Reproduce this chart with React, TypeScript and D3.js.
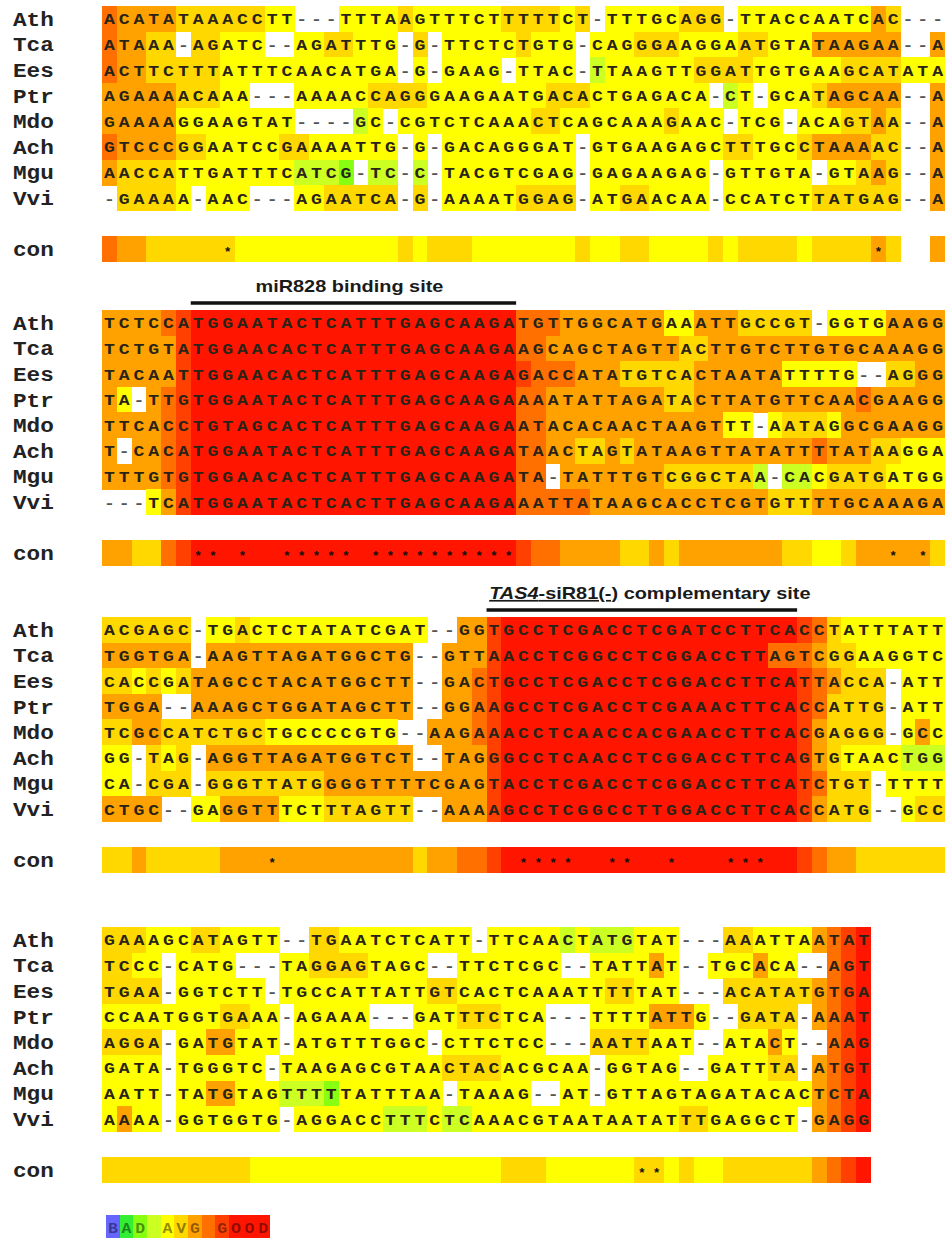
import React from "react";
import * as d3 from "d3";

const species = ["Ath", "Tca", "Ees", "Ptr", "Mdo", "Ach", "Mgu", "Vvi"];

// score colours 0 (bad) .. 9 (good)
const scoreColors = ["#6666ff", "#33ee33", "#88ff11", "#ccff22", "#ffff00", "#ffd800", "#ffa200", "#ff7000", "#ff4000", "#ff1500"];

// ---- block 1
const seqs1 = [
  "ACATATAAACCTT---TTTAAGTTTCTTTTTCT-TTTGCAGG-TTACCAATCAC---",
  "ATAAA-AGATC--AGATTTG-G-TTCTCTGTG-CAGGGAAGGAATGTATAAGAA--A",
  "ACTTCTTTATTTCAACATGA-G-GAAG-TTAC-TTAAGTTGGATTGTGAAGCATATA",
  "AGAAAACAAA---AAAACCAGGGAAGAATGACACTGAGACA-CT-GCATAGCAA--A",
  "GAAAAGGAAGTAT----GC-CGTCTCAAACTCAGCAAAGAAC-TCG-ACAGTAA--A",
  "GTCCCGGAATCCGAAAATTG-G-GACAGGGAT-GTGAAGAGCTTTGCCTAAAAC--A",
  "AACCATTGATTTCATCG-TC-C-TACGTCGAG-GAGAAGAG-GTTGTA-GTAAG--A",
  "-GAAAA-AAC---AGAATCA-G-AAAATGGAG-ATGAACAA-CCATCTTATGAG--A",
];
const scores1 = [
  "7666655555544" + "---" + "44445444444555545" + "-" + "44444555" + "-" + "44444444465" + "---",
  "76655" + "-" + "55444" + "--" + "4455444" + "-" + "5" + "-" + "444445444" + "-" + "444555444455444666666" + "--" + "6",
  "76655555444444444444" + "-" + "4" + "-" + "4444" + "-" + "4444" + "-" + "344444455554444445555444",
  "6666655544" + "---" + "4444455554444444455544444444" + "-" + "34" + "-" + "444566666" + "--" + "6",
  "6666644444444" + "----" + "34" + "-" + "4444444445544444445444" + "-" + "444" + "-" + "4445565" + "--" + "6",
  "76666554444455444444" + "-" + "4" + "-" + "444444444" + "-" + "444444444554445666655" + "--" + "6",
  "65555444444443332" + "-" + "33" + "-" + "3" + "-" + "444444444" + "-" + "44444444" + "-" + "444444" + "-" + "44565" + "--" + "6",
  "-" + "55554" + "-" + "444" + "---" + "4455555" + "-" + "5" + "-" + "444445555" + "-" + "44554444" + "-" + "444444555555" + "--" + "6",
];
const con1 = "766555555" + "44444444444" + "54" + "555" + "4444444" + "5" + "44" + "55" + "4444" + "5" + "4" + "5555" + "4" + "5555" + "6" + "5" + "--" + "6";
const stars1 = [9, 53];

// ---- block 2
const seqs2 = [
  "TCTCCATGGAATACTCATTTGAGCAAGATGTTGGCATGAAATTGCCGT-GGTGAAGG",
  "TCTGTATGGAACACTCATTTGAGCAAGAAGCAGCTAGTTACTTGTCTTGTGCAAAGG",
  "TACAATTGGAACACTCATTTGAGCAAGAGACCATATGTCACTAATATTTTG--AGGG",
  "TA-TTGTGGAATACTCATTTGAGCAAGAAAATATTAGATACTTATGTTCAACGAAGG",
  "TTCACCTGTAGCACTCATTTGAGCAAGAATACACAACTAAGTTT-AATAGGCGAAGG",
  "T-CACATGGAATACTCATTTGAGCAAGATAACTAGTATAAGTTATATTTTATAAGGA",
  "TTTGTGTGGAACACTCATTTGAGCAAGATA-TATTTGTCGGCTAA-CACGATGATGG",
  "---TCATGGAATACTCACTTGAGCAAGAAATTATAAGCACCTCGTGTTTTGCAAAGA",
];
const scores2 = [
  "666678" + "9999999999999999999999" + "777" + "6666666" + "44" + "666" + "55555" + "-" + "4444" + "6666",
  "666668" + "9999999999999999999999" + "77" + "666666666556666666666666666",
  "666668" + "9999999999999999999999" + "8" + "777" + "666" + "55555" + "666666" + "44444" + "--" + "5566",
  "64-678" + "9999999999999999999999" + "77" + "666" + "66666" + "55" + "66666666666" + "7" + "66666",
  "666678" + "9999999999999999999999" + "77" + "666666666666" + "44" + "-" + "45554" + "6666666",
  "6-6678" + "9999999999999999999999" + "77" + "66" + "55" + "6" + "5" + "666666666666" + "7" + "666" + "55" + "444",
  "666678" + "9999999999999999999999" + "77" + "-" + "6666666" + "555555" + "3" + "-" + "33" + "4" + "55554444",
  "---468" + "9999999999999999999999" + "77" + "777" + "666666666666" + "555" + "666666666",
];
const con2 = "6655" + "7" + "8" + "9999999999999999999999" + "8" + "77" + "6666" + "55" + "6" + "5" + "6666666" + "55445" + "66666" + "5";
const stars2 = [7, 8, 10, 13, 14, 15, 16, 17, 19, 20, 21, 22, 23, 24, 25, 26, 27, 28, 54, 56];

// ---- block 3
const seqs3 = [
  "ACGAGC-TGACTCTATATCGAT--GGTGCCTCGACCTCGATCCTTCACCTATTTATT",
  "TGGTGA-AAGTTAGATGGCTG--GTTAACCTCGGCCTCGGACCTTAGTCGGAAGGTC",
  "CACCGATAGCCTACATGGCTT--GACTGCCTCGACCTCGGACCTTCATTACCA-ATT",
  "TGGA--AAAGCTGGATAGCTT--GGAAGCCTCGACCTCGAAACTTCACCATTG-ATT",
  "TCGCCATCTGCTGCCCCGTG--AAGAAACCTCAACCACGAACCTTCACGAGGG-GCC",
  "GG-TAG-AGGTTAGATGGTCT--TAGGGCCTCAACCTCGGACCTTCAGTGTAACTGG",
  "CA-CGA-GGGTTATGGGGTTTTCGAGTACCTCGACCTCGGACCTTCATCTGT-TTTT",
  "CTGC--GAGGTTTCTTTAGTT--AAAAGCCTCGGCCTTGGACCTTCACCATG--GCC",
];
const scores3 = [
  "555555" + "-" + "445444444444444" + "--" + "66" + "8" + "99999999999999999999" + "8" + "7" + "5" + "4444444",
  "666666" + "-" + "66666666666666" + "--" + "666" + "8" + "999999999999999999" + "777" + "6" + "55" + "444444",
  "554545" + "666" + "666666666666" + "--" + "66" + "7" + "8" + "99999999999999999999" + "8" + "7" + "6" + "555" + "-" + "444",
  "6666" + "--" + "666666666666666" + "--" + "66" + "7" + "8" + "99999999999999999999" + "8" + "7" + "5555" + "-" + "444",
  "5566" + "5555555444444444" + "--" + "666" + "7" + "8" + "99999999999999999999" + "8" + "6" + "5555" + "-" + "464",
  "44" + "-" + "545" + "-" + "66666666666666" + "--" + "666" + "8" + "99999999999999999999" + "8" + "6" + "5" + "4444" + "333",
  "44" + "-" + "555" + "-" + "5555555566666666666" + "8" + "99999999999999999999" + "8" + "7" + "555" + "-" + "4444",
  "6666" + "--" + "44" + "6666" + "444" + "555555" + "--" + "666" + "8" + "99999999999999999999" + "8" + "6" + "555" + "--" + "455",
];
const con3 = "55" + "6" + "55555" + "6666666666666" + "5" + "6677" + "8" + "99999999999999999999" + "8" + "7" + "66" + "555555";
const stars3 = [12, 29, 30, 31, 32, 35, 36, 39, 43, 44, 45];

// ---- block 4
const seqs4 = [
  "GAAAGCATAGTT--TGAATCTCATT-TTCAACTATGTAT---AAATTAATAT",
  "TCCC-CATG---TAGGAGTAGC--TTCTCGC--TATTAT--TGCACA--AGT",
  "TGAA-GGTCTT-TGCCATTATTGTCACTCAAATTTTTAT---ACATATGTGA",
  "CCAATGGTGAAA-AGAAA---GATTTCTCA---TTTTATTG--GATA-AAAT",
  "AGGA-GATGTAT-ATGTTTGGC-CTTCTCC---AATTAAT--ATACT--AAG",
  "GATA-TGGGTC-TAAGAGCGTAACTACACGCAA-GGTAG--GATTTA-ATGT",
  "AATT-TATGTAGTTTTTATTTAA-TAAAG--AT-GTTAGTAGATACACTCTA",
  "AAAA-GGTGGTG-AGGACCTTTCTCAAACGTAATAATATTTGAGGCT-GAGG",
];
const scores4 = [
  "555444554444" + "--" + "55444444444" + "-" + "44444" + "3" + "4" + "333" + "444" + "---" + "554444" + "6789",
  "5544" + "-" + "4444" + "---" + "4455554444" + "--" + "4444444" + "--" + "444464" + "--" + "444644" + "--" + "789",
  "5555" + "-" + "444444" + "-" + "444444444455444444444455444" + "---" + "555555" + "6789",
  "444444445544" + "-" + "44444" + "---" + "444555444" + "---" + "44446664" + "--" + "5555" + "-" + "6789",
  "5555" + "-" + "4466444" + "-" + "444444444" + "-" + "4444444" + "---" + "5555444" + "--" + "44464" + "--" + "789",
  "4444" + "-" + "444444" + "-" + "444444444445555444444" + "-" + "44444" + "--" + "444455" + "-" + "6789",
  "4444" + "-" + "4466444" + "3332" + "4444444" + "-" + "44444" + "--" + "44" + "-" + "44444444444444" + "6789",
  "4644" + "-" + "4444444" + "-" + "444444" + "333" + "4" + "33" + "4444444444444455444444" + "-" + "6789",
];
const con4 = "5555555555" + "44444444444444444" + "555" + "444444" + "55" + "4" + "5" + "44" + "555555" + "6789";
const stars4 = [37, 38];

const blockTops = [6, 310, 617, 927];
const blocks = [
  { seqs: seqs1, scores: scores1, con: con1, stars: stars1 },
  { seqs: seqs2, scores: scores2, con: con2, stars: stars2 },
  { seqs: seqs3, scores: scores3, con: con3, stars: stars3 },
  { seqs: seqs4, scores: scores4, con: con4, stars: stars4 },
];

// annotated sites: block index, first and last column
const siteBlocks = [1, 2];
const siteFrom = [7, 27];
const siteTo = [28, 47];

const legendText = "BAD AVG GOOD";
const legendScores = "012345678999";

export default function App() {
  const width = 950;
  const height = 1238;
  const rowH = 25.6;
  const mono = "'Liberation Mono', 'DejaVu Sans Mono', monospace";
  const sans = "'Liberation Sans', Arial, sans-serif";

  const x = d3.scaleBand<number>().domain(d3.range(1, 58)).range([102, 945]);
  const bw = x.bandwidth();
  const color = d3
    .scaleOrdinal<string, string>()
    .domain(d3.range(10).map(String))
    .range(scoreColors);
  const rowKeys = [...species, "blank", "con"];

  const letter = (ch: string, cx: number, cy: number, key: string) => (
    <text
      key={key}
      transform={`translate(${cx},${cy + 5.5}) scale(1.17,1)`}
      textAnchor="middle"
      fontFamily={mono}
      fontWeight="bold"
      fontSize={15.5}
      fill={ch === "-" ? "#555" : "#2a2418"}
    >
      {ch}
    </text>
  );

  const label = (txt: string, cy: number, key: string) => (
    <text
      key={key}
      transform={`translate(13,${cy + 7}) scale(1.08,1)`}
      fontFamily={mono}
      fontWeight="bold"
      fontSize={21}
      fill="#222"
    >
      {txt}
    </text>
  );

  return (
    <svg
      width={width}
      height={height}
      style={{ position: "absolute", left: 0, top: 0, background: "#fff" }}
    >
      <rect width={width} height={height} fill="#fff" />
      {blocks.map((b, bi) => {
        const y = d3
          .scaleBand<string>()
          .domain(rowKeys)
          .range([blockTops[bi], blockTops[bi] + rowH * rowKeys.length]);
        const bh = y.bandwidth();
        return (
          <g key={"b" + bi}>
            {b.seqs.map((seq, ri) => {
              const sp = species[ri];
              const y0 = y(sp) as number;
              const sc = b.scores[ri];
              return (
                <g key={sp}>
                  {label(sp, y0 + bh / 2, "l" + sp)}
                  {seq.split("").map((ch, ci) =>
                    ch === "-" || sc[ci] === "-" ? null : (
                      <rect
                        key={"r" + ci}
                        x={x(ci + 1)}
                        y={y0}
                        width={bw + 0.4}
                        height={bh + 0.4}
                        fill={color(sc[ci])}
                        shapeRendering="crispEdges"
                      />
                    )
                  )}
                  {seq.split("").map((ch, ci) =>
                    letter(ch, (x(ci + 1) as number) + bw / 2, y0 + bh / 2, "t" + ci)
                  )}
                </g>
              );
            })}
            <g>
              {label("con", (y("con") as number) + bh / 2, "lcon")}
              {b.con.split("").map((s, ci) =>
                s === "-" ? null : (
                  <rect
                    key={"c" + ci}
                    x={x(ci + 1)}
                    y={y("con")}
                    width={bw + 0.4}
                    height={bh}
                    fill={color(s)}
                    shapeRendering="crispEdges"
                  />
                )
              )}
              {b.stars.map((c) => (
                <text
                  key={"s" + c}
                  x={(x(c) as number) + bw / 2}
                  y={(y("con") as number) + bh / 2 + 7}
                  textAnchor="middle"
                  fontFamily={mono}
                  fontWeight="bold"
                  fontSize={13}
                  fill="#111"
                >
                  *
                </text>
              ))}
            </g>
          </g>
        );
      })}

      {siteBlocks.map((blk, i) => {
        const x0 = x(siteFrom[i]) as number;
        const x1 = (x(siteTo[i]) as number) + bw;
        const ly = blockTops[blk] - 7;
        const cx = (x0 + x1) / 2;
        return (
          <g key={"site" + i}>
            <line x1={x0} x2={x1} y1={ly} y2={ly} stroke="#111" strokeWidth={3.5} />
            {i === 0 ? (
              <text
                transform={`translate(${cx - 4},${ly - 11}) scale(1.17,1)`}
                textAnchor="middle"
                fontFamily={sans}
                fontWeight="bold"
                fontSize={17}
                fill="#1a1a1a"
              >
                miR828 binding site
              </text>
            ) : (
              <text
                transform={`translate(${cx + 8},${ly - 11}) scale(1.17,1)`}
                textAnchor="middle"
                fontFamily={sans}
                fontWeight="bold"
                fontSize={17}
                fill="#1a1a1a"
              >
                <tspan fontStyle="italic" textDecoration="underline">TAS4</tspan>
                <tspan textDecoration="underline">-siR81(-)</tspan>
                <tspan> complementary site</tspan>
              </text>
            )}
          </g>
        );
      })}

      <g>
        {legendText.split("").map((ch, i) => {
          const lx = d3.scaleBand<number>().domain(d3.range(legendText.length)).range([106, 270]);
          return (
            <g key={"lg" + i}>
              <rect
                x={lx(i)}
                y={1215}
                width={lx.bandwidth() + 0.4}
                height={25}
                fill={color(legendScores[i])}
                shapeRendering="crispEdges"
              />
              <text
                transform={`translate(${(lx(i) as number) + lx.bandwidth() / 2},${1233}) scale(1.1,1)`}
                textAnchor="middle"
                fontFamily={mono}
                fontWeight="bold"
                fontSize={15}
                fill="#000"
                fillOpacity={0.45}
              >
                {ch}
              </text>
            </g>
          );
        })}
      </g>
    </svg>
  );
}
